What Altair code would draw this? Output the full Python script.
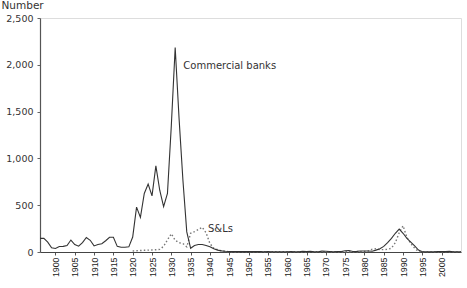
import altair as alt
import pandas as pd

# Commercial bank failures, 1896-2005
bank_years = list(range(1896, 2006))
bank_values = [
    146, 146, 105, 45, 38, 58, 60, 70, 128, 80,          # 1896-1905
    62, 100, 155, 125, 65, 80, 88, 120, 157, 157,       # 1906-1915
    60, 50, 50, 55, 160, 480, 370, 625, 725, 600,       # 1916-1925
    920, 660, 485, 625, 1350, 2185, 1430, 770, 215, 40, # 1926-1935
    70, 80, 80, 70, 55, 35, 20, 12, 8, 6,               # 1936-1945
    5, 5, 4, 4, 5, 4, 4, 4, 3, 4,                       # 1946-1955
    3, 3, 3, 3, 3, 5, 2, 2, 8, 5,                       # 1956-1965
    7, 3, 3, 9, 8, 6, 3, 6, 6, 13,                      # 1966-1975
    16, 6, 7, 10, 10, 10, 8, 20, 35, 60,                # 1976-1985
    100, 145, 200, 245, 200, 145, 105, 65, 20, 3,       # 1986-1995
    3, 1, 3, 6, 5, 4, 8, 3, 3, 3,                       # 1996-2005
]

# Savings & loan failures, 1920-2005
sl_years = list(range(1920, 2006))
sl_values = [
    10, 14, 16, 18, 20, 22, 24, 28, 60, 130,            # 1920-1929
    195, 125, 100, 90, 55, 200, 217, 240, 265, 205,     # 1930-1939
    90, 40, 25, 12, 5, 4, 3, 3, 3, 3,                   # 1940-1949
    3, 3, 3, 3, 3, 3, 3, 3, 3, 3,                       # 1950-1959
    3, 3, 3, 3, 3, 3, 3, 3, 3, 3,                       # 1960-1969
    3, 3, 3, 3, 3, 3, 3, 3, 3, 3,                       # 1970-1979
    5, 10, 30, 35, 25, 25, 28, 40, 100, 205,            # 1980-1989
    280, 155, 90, 40, 5, 2, 1, 1, 1, 1,                 # 1990-1999
    1, 1, 1, 1, 1, 1,                                   # 2000-2005
]

label_text = ["Commercial banks", "S&Ls"]
label_year = [1933.1, 1939.5]
label_value = [1952, 217]

tick_years = list(range(1900, 2001, 5))
y_ticks = [0, 500, 1000, 1500, 2000, 2500]

banks = pd.DataFrame({"year": bank_years, "failures": bank_values})
sls = pd.DataFrame({"year": sl_years, "failures": sl_values})
labels = pd.DataFrame({"text": label_text, "year": label_year, "failures": label_value})

x_scale = alt.Scale(domain=[1896, 2005], nice=False, zero=False)
y_scale = alt.Scale(domain=[0, 2500], nice=False)

x_axis = alt.Axis(
    values=tick_years, format="d", labelAngle=270, title=None,
    labelFont="Liberation Sans", labelFontSize=8.8, labelColor="#222",
    tickColor="#555", tickSize=3, domainColor="#444", labelPadding=2,
    labelAlign="right", labelBaseline="middle", grid=False,
    labelOverlap=False, labelFlush=False, labelBound=False,
)
y_axis = alt.Axis(
    values=y_ticks, format=",.0f", title="Number", titleAngle=0,
    titleX=-39, titleY=-13, titleAlign="left", titleBaseline="middle",
    titleFont="DejaVu Sans", titleFontSize=10.5, titleFontWeight="normal",
    titleColor="#333",
    labelFont="DejaVu Sans", labelFontSize=9.5, labelColor="#333",
    tickColor="#666", tickSize=3, domainColor="#555", domainWidth=1.2,
    labelPadding=4, grid=False, labelOverlap=False, labelFlush=False,
)

X = alt.X("year:Q", scale=x_scale, axis=x_axis)
Y = alt.Y("failures:Q", scale=y_scale, axis=y_axis)

bank_line = alt.Chart(banks).mark_line(
    color="#333", strokeWidth=1.1, interpolate="linear"
).encode(x=X, y=Y)

sl_line = alt.Chart(sls).mark_line(
    color="#777", strokeWidth=1.4, strokeDash=[1.5, 2.2], interpolate="linear"
).encode(x=X, y=Y)

text = alt.Chart(labels).mark_text(
    align="left", baseline="alphabetic", font="DejaVu Sans", fontSize=10,
    color="#333",
).encode(x=X, y=Y, text="text:N")

chart = alt.layer(sl_line, bank_line, text).properties(
    width=421, height=234,
    padding={"left": 40, "top": 18, "right": 6, "bottom": 36},
    autosize=alt.AutoSizeParams(type="none"),
).configure_view(stroke=None).configure(background="white")

chart.save("out.html", embed_options={"renderer": "svg", "actions": False})
